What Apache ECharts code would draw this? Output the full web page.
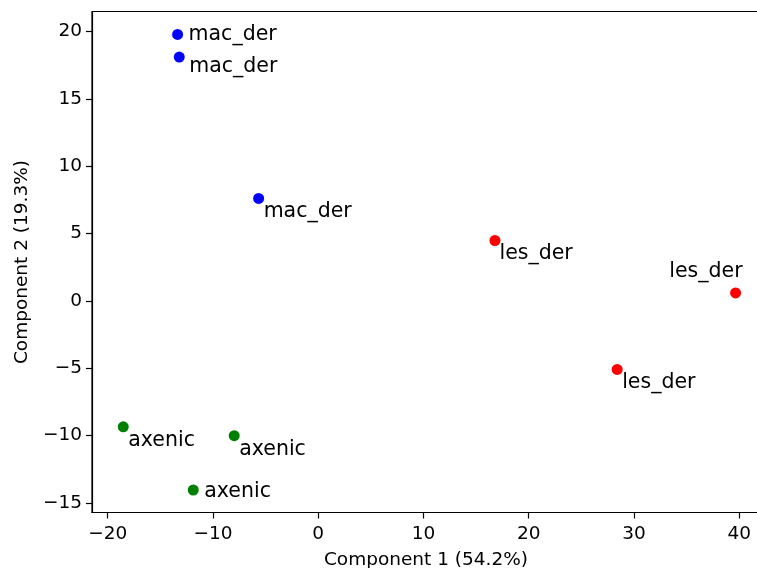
<!DOCTYPE html>
<html>
<head>
<meta charset="utf-8">
<script src="https://cdn.jsdelivr.net/npm/echarts@6/dist/echarts.min.js"></script>
<style>
html,body{margin:0;padding:0;background:#fff;overflow:hidden;}
#c{width:757px;height:568px;}
</style>
</head>
<body>
<div id="c"></div>
<script>
// ---- data ----
const groups = ['mac_der', 'les_der', 'axenic'];
const macX = [-13.36, -13.2, -5.66];
const macY = [19.78, 18.1, 7.6];
const lesX = [16.79, 39.65, 28.4];
const lesY = [4.48, 0.59, -5.09];
const axeX = [-18.52, -7.98, -11.87];
const axeY = [-9.35, -10.01, -14.04];
const xTicks = [-20, -10, 0, 10, 20, 30, 40];
const yTicks = [-15, -10, -5, 0, 5, 10, 15, 20];
const xTitle = 'Component 1 (54.2%)';
const yTitle = 'Component 2 (19.3%)';

// ---- label placement (pixel offsets from marker centre; layout only) ----
const macLab = [[11, 0, 'left'], [10, 10, 'left'], [5, 13.5, 'left']];
const lesLab = [[4.5, 13, 'left'], [7, -21, 'right'], [5, 13.5, 'left']];
const axeLab = [[5, 13.5, 'left'], [5, 13.5, 'left'], [11, 1.5, 'left']];

const colors = {mac_der: '#0000ff', les_der: '#ff0000', axenic: '#008000'};
const FONT = 'DejaVu Sans';

function mk(name, xs, ys, labs) {
  return {
    type: 'scatter',
    name: name,
    symbolSize: 11,
    itemStyle: {color: colors[name], opacity: 1},
    data: xs.map((x, i) => ({
      value: [x, ys[i]],
      label: {
        show: true,
        position: 'inside',
        formatter: name,
        align: labs[i][2],
        verticalAlign: 'middle',
        offset: [labs[i][0], labs[i][1]],
        color: '#000',
        fontFamily: FONT,
        fontSize: 20.5
      }
    })),
    emphasis: {disabled: true},
    animation: false
  };
}
const fmt = v => String(v).replace('-', '\u2212');

const chart = echarts.init(document.getElementById('c'), null, {renderer: 'canvas'});
chart.setOption({
  animation: false,
  backgroundColor: '#fff',
  grid: {left: 92, right: -3, top: 11.5, bottom: 55.5, show: true, borderColor: '#000', borderWidth: 1.2,
         backgroundColor: 'transparent', containLabel: false, outerBoundsMode: 'none'},
  xAxis: {
    type: 'value', min: -21.49, max: 41.97,
    name: xTitle, nameLocation: 'middle', nameGap: 38,
    nameTextStyle: {fontFamily: FONT, fontSize: 18.5, color: '#000'},
    axisLine: {show: true, onZero: false, lineStyle: {color: '#000', width: 1.2}},
    axisTick: {show: true, length: 6, lineStyle: {color: '#000', width: 1.2}, customValues: xTicks},
    axisLabel: {fontFamily: FONT, fontSize: 18.5, color: '#000', margin: 12, customValues: xTicks, formatter: fmt},
    splitLine: {show: false}
  },
  yAxis: {
    type: 'value', min: -15.71, max: 21.48,
    name: yTitle, nameLocation: 'middle', nameGap: 58,
    nameTextStyle: {fontFamily: FONT, fontSize: 18.5, color: '#000'},
    axisLine: {show: true, onZero: false, lineStyle: {color: '#000', width: 1.2}},
    axisTick: {show: true, length: 6, lineStyle: {color: '#000', width: 1.2}, customValues: yTicks},
    axisLabel: {fontFamily: FONT, fontSize: 18.5, color: '#000', margin: 10, customValues: yTicks, formatter: fmt},
    splitLine: {show: false}
  },
  series: [
    mk('mac_der', macX, macY, macLab),
    mk('les_der', lesX, lesY, lesLab),
    mk('axenic', axeX, axeY, axeLab)
  ]
});
</script>
</body>
</html>
